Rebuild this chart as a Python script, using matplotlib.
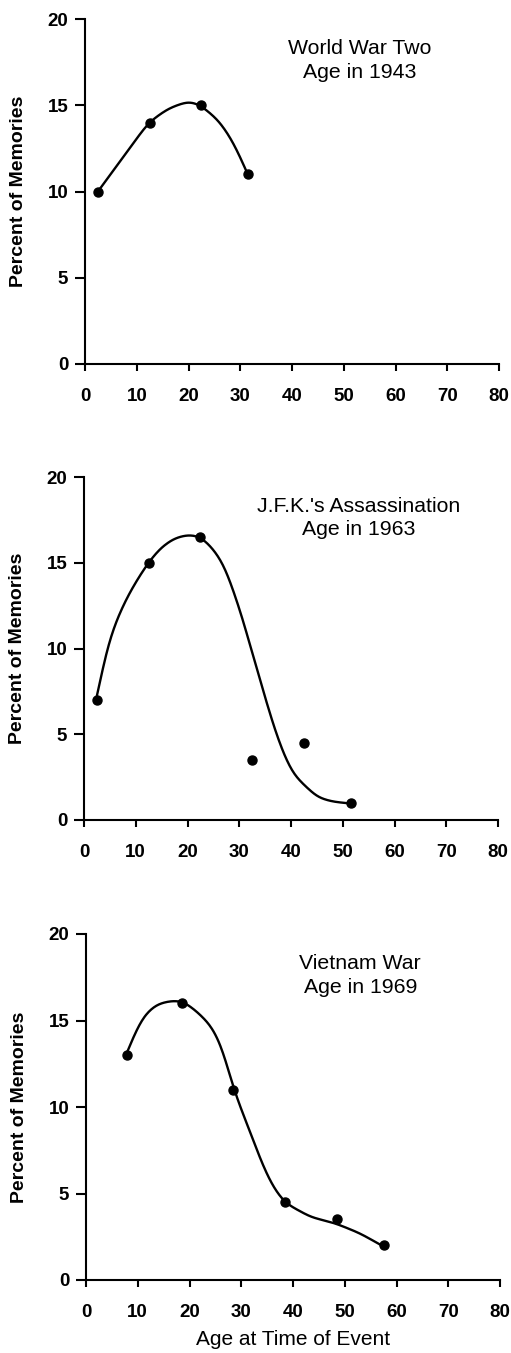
import numpy as np
import matplotlib
matplotlib.use("Agg")
import matplotlib.pyplot as plt

plt.rcParams['font.family'] = ['Liberation Sans', 'DejaVu Sans']

# ---- data ----
titles = ["World War Two\nAge in 1943",
          "J.F.K.'s Assassination\nAge in 1963",
          "Vietnam War\nAge in 1969"]

ww2_age = [2.5, 12.5, 22.5, 31.5]
ww2_pct = [10, 14, 15, 11]
# smoothed trend line as drawn in the picture
ww2_trend_x = [2.5, 6.4, 12.2, 16.1, 20.0, 22.2, 25.8, 28.3, 30.3, 31.5]
ww2_trend_y = [10.0, 11.6, 13.95, 14.8, 15.2, 15.0, 14.1, 13.0, 11.8, 10.9]

jfk_age = [2.5, 12.5, 22.5, 32.5, 42.5, 51.5]
jfk_pct = [7, 15, 16.5, 3.5, 4.5, 1]
jfk_trend_x = [2.5, 4.5, 6.4, 8.4, 10.3, 12.6, 14.8, 17.4, 20.0, 22.5, 25.1, 27.1,
               29.0, 30.9, 32.85, 34.8, 36.7, 38.6, 40.4, 45.0, 48.2, 51.3]
jfk_trend_y = [7.1, 10.1, 11.66, 13.0, 14.0, 15.06, 15.84, 16.4, 16.6, 16.5, 15.7, 14.8,
               13.2, 11.5, 9.33, 7.39, 5.44, 3.89, 2.72, 1.36, 1.07, 0.97]

viet_age = [8, 18.5, 28.5, 38.5, 48.5, 57.5]
viet_pct = [13, 16, 11, 4.5, 3.5, 2]
viet_trend_x = [8.0, 9.15, 11.1, 13.65, 16.2, 18.7, 21.4, 24.0, 25.9, 27.2, 28.5, 30.4,
                32.3, 34.3, 36.2, 38.45, 43.3, 48.2, 52.9, 57.3]
viet_trend_y = [13.1, 14.06, 15.2, 15.9, 16.1, 16.1, 15.5, 14.7, 13.7, 12.5, 11.0, 9.6,
                8.1, 6.55, 5.4, 4.49, 3.66, 3.27, 2.7, 1.97]

x_ticks = [0, 10, 20, 30, 40, 50, 60, 70, 80]
y_ticks = [0, 5, 10, 15, 20]


def smooth_curve(xk, yk, scale=0.9, n=300):
    """Whittaker (penalised least-squares) smoothing of the read trend values."""
    x = np.asarray(xk, float)
    y = np.asarray(yk, float)
    xs = np.linspace(x[0], x[-1], n)
    base = np.interp(xs, x, y)
    dx = xs[1] - xs[0]
    lam = (scale / dx) ** 4
    D = np.diff(np.eye(n), 2, axis=0)
    ys = np.linalg.solve(np.eye(n) + lam * D.T @ D, base)
    return xs, ys


W, H = 511, 1353
fig = plt.figure(figsize=(W / 100, H / 100), dpi=100)

# axes boxes in pixels: left, right, top, bottom
boxes = [(85, 499, 19, 364), (84, 498, 477, 820), (86, 500, 934, 1280)]
series = [(ww2_age, ww2_pct, ww2_trend_x, ww2_trend_y),
          (jfk_age, jfk_pct, jfk_trend_x, jfk_trend_y),
          (viet_age, viet_pct, viet_trend_x, viet_trend_y)]

for k, ((l, r, t, b), (xa, ya, tx, ty), title) in enumerate(zip(boxes, series, titles)):
    ax = fig.add_axes([l / W, 1 - b / H, (r - l) / W, (b - t) / H])
    xs, ys = smooth_curve(tx, ty)
    ax.plot(xs, ys, color='black', lw=1.7, zorder=2)
    ax.plot(xa, ya, 'o', color='black', ms=6.5, zorder=3, clip_on=False)
    ax.set_xlim(0, 80)
    ax.set_ylim(0, 20)
    ax.set_xticks(x_ticks)
    ax.set_yticks(y_ticks)
    for s in ['top', 'right']:
        ax.spines[s].set_visible(False)
    for s in ['left', 'bottom']:
        ax.spines[s].set_linewidth(1.5)
    ax.tick_params(axis='x', direction='out', length=5, width=1.5, pad=12, labelsize=13.5)
    ax.tick_params(axis='y', direction='out', length=7, width=1.5, pad=5, labelsize=13.5)
    for lab in ax.get_xticklabels() + ax.get_yticklabels():
        lab.set_fontweight('bold')
    ax.set_ylabel("Percent of Memories", fontsize=14, fontweight='bold')
    ax.yaxis.set_label_coords(-0.14, 0.5)
    ax.text(53, 17.6, title, ha='center', va='center', fontsize=15.3, linespacing=1.3)
    if k == 2:
        ax.set_xlabel("Age at Time of Event", fontsize=15, labelpad=7)

fig.savefig("out.png", dpi=100)
